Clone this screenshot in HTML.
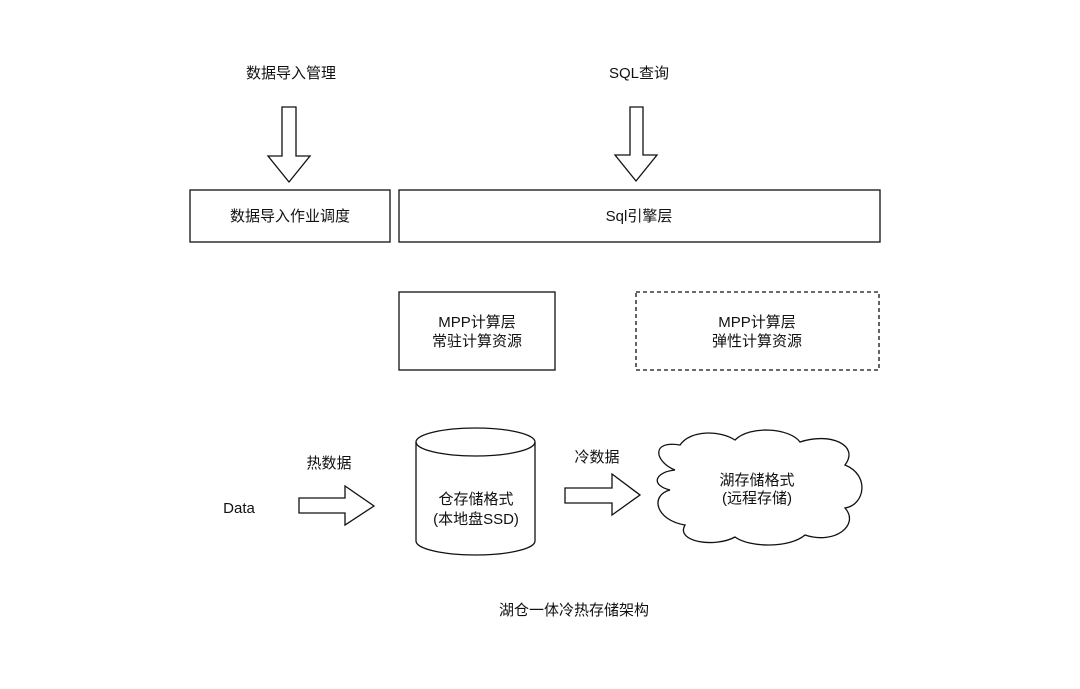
<!DOCTYPE html>
<html><head><meta charset="utf-8"><style>
html,body{margin:0;padding:0;background:#fff;width:1080px;height:689px;overflow:hidden}
svg text{font-family:"Liberation Sans","Noto Sans CJK SC",sans-serif;font-size:15px;fill:#111;text-anchor:middle}
</style></head><body>
<svg width="1080" height="689" viewBox="0 0 1080 689" xmlns="http://www.w3.org/2000/svg">
<g fill="none" stroke="#111" stroke-width="1.3" stroke-linejoin="miter">
<path d="M282 107 H296 V156 H310 L289 182 L268 156 H282 Z"/>
<path d="M630 107 H643 V155 H657 L636 181 L615 155 H630 Z"/>
<rect x="190" y="190" width="200" height="52"/>
<rect x="399" y="190" width="481" height="52"/>
<rect x="399" y="292" width="156" height="78"/>
<rect x="636" y="292" width="243" height="78" stroke-dasharray="4,3"/>
<path d="M299 498 H345 V486 L374 506 L345 525 V513 H299 Z"/>
<path d="M565 488 H612 V474 L640 495 L612 515 V503 H565 Z"/>
<path d="M416 442 V541 A59.5 14 0 0 0 535 541 V442"/>
<ellipse cx="475.5" cy="442" rx="59.5" ry="14"/>
<path d="M675 470 C655 462 650 440 680 445 C690 430 720 430 735 440 C750 425 790 428 800 442 C830 432 860 445 845 465 C870 475 865 505 845 508 C860 525 835 545 805 535 C790 548 750 548 735 537 C715 548 675 542 685 525 C655 520 650 495 670 490 C650 485 655 472 675 470 Z"/>
</g>
<text x="291" y="78">数据导入管理</text>
<text x="639" y="78">SQL查询</text>
<text x="290" y="221">数据导入作业调度</text>
<text x="639" y="221">Sql引擎层</text>
<text x="477" y="327">MPP计算层</text>
<text x="477" y="346">常驻计算资源</text>
<text x="757" y="327">MPP计算层</text>
<text x="757" y="346">弹性计算资源</text>
<text x="329" y="468">热数据</text>
<text x="239" y="513">Data</text>
<text x="476" y="504">仓存储格式</text>
<text x="476" y="524">(本地盘SSD)</text>
<text x="597" y="462">冷数据</text>
<text x="757" y="485">湖存储格式</text>
<text x="757" y="503">(远程存储)</text>
<text x="574" y="615">湖仓一体冷热存储架构</text>
</svg>
</body></html>
